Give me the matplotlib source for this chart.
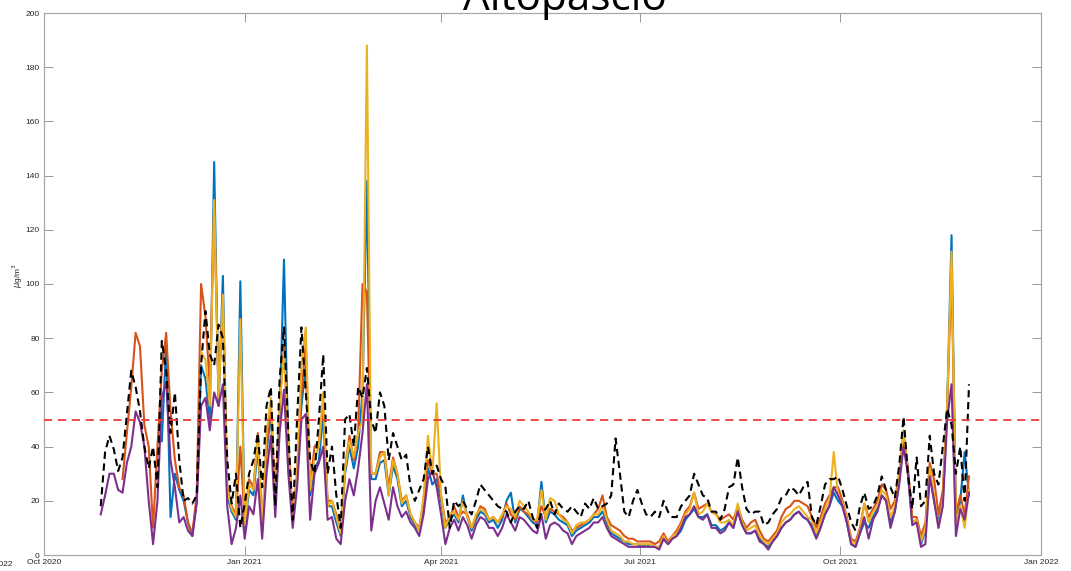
import numpy as np
import matplotlib
matplotlib.use('Agg')
import matplotlib.pyplot as plt

nan = np.nan

# ---- data (every 2 days from 2020-10-27) ----
start_date = '2020-10-27'
n_points = 200
step_days = 2

black_obs = [
    18, 38, 44, 39, 31, 36, 52, 68, 62, 53,
    40, 32, 40, 25, 79, 68, 45, 60, 35, 20,
    21, 19, 22, 70, 90, 74, 70, 85, 80, 35,
    19, 30, 10, 19, 30, 35, 45, 25, 55, 62,
    18, 65, 84, 45, 13, 50, 84, 60, 35, 30,
    50, 74, 30, 40, 22, 10, 50, 52, 40, 62,
    58, 69, 50, 45, 60, 55, 35, 45, 40, 35,
    37, 25, 20, 24, 28, 40, 30, 33, 28, 25,
    10, 20, 18, 20, 17, 15, 20, 26, 24, 22,
    20, 18, 17, 16, 12, 16, 18, 17, 20, 14,
    10, 16, 17, 20, 15, 19, 17, 16, 18, 16,
    14, 19, 17, 21, 17, 18, 19, 22, 43, 30,
    16, 14, 20, 24, 19, 15, 14, 16, 14, 20,
    16, 14, 14, 18, 20, 22, 30, 26, 22, 21,
    16, 16, 13, 17, 25, 26, 36, 25, 17, 15,
    16, 16, 11, 12, 15, 17, 21, 22, 25, 24,
    22, 25, 27, 14, 11, 18, 26, 28, 28, 29,
    24, 18, 12, 9, 18, 23, 17, 18, 22, 29,
    24, 25, 21, 33, 51, 30, 17, 36, 18, 20,
    44, 30, 26, 40, 54, 48, 30, 40, 20, 63,
]

orange = [
    nan, nan, nan, nan, nan, 28, 45, 62, 82, 77,
    48, 40, 10, 40, 68, 82, 53, 35, 25, 22,
    12, 8, 22, 100, 88, 62, 128, 60, 92, 25,
    18, 15, 40, 12, 28, 25, 45, 10, 40, 55,
    20, 55, 77, 42, 14, 30, 60, 78, 25, 40,
    42, 55, 20, 20, 15, 8, 32, 44, 35, 45,
    100, 97, 30, 30, 38, 38, 25, 36, 30, 20,
    22, 15, 12, 10, 20, 35, 30, 30, 22, 12,
    14, 18, 14, 16, 15, 10, 14, 18, 17, 13,
    14, 12, 14, 19, 15, 13, 18, 16, 15, 13,
    12, 18, 14, 17, 16, 15, 14, 12, 9, 10,
    11, 12, 13, 15, 17, 22, 14, 11, 10, 9,
    7, 6, 6, 5, 5, 5, 5, 4, 5, 8,
    5, 7, 9, 12, 16, 18, 23, 17, 18, 19,
    16, 15, 13, 14, 15, 13, 18, 13, 10, 12,
    13, 9, 6, 5, 7, 9, 14, 17, 18, 20,
    20, 19, 18, 14, 10, 14, 19, 22, 25, 25,
    20, 14, 6, 5, 10, 19, 14, 17, 20, 26,
    24, 17, 20, 30, 45, 32, 14, 14, 7, 12,
    34, 28, 15, 24, 55, 105, 15, 22, 15, 29,
]

blue = [
    nan, nan, nan, nan, nan, nan, nan, nan, nan, nan,
    nan, nan, nan, nan, 42, 78, 14, 30, 24, 20,
    12, 7, 20, 70, 65, 50, 145, 55, 103, 22,
    16, 13, 101, 10, 24, 22, 40, 9, 38, 52,
    18, 50, 109, 38, 12, 28, 55, 70, 22, 32,
    35, 52, 18, 18, 12, 7, 30, 40, 32, 40,
    60, 138, 28, 28, 34, 35, 22, 33, 28, 18,
    20, 14, 11, 9, 18, 32, 26, 28, 20, 10,
    13, 15, 12, 22, 14, 9, 13, 16, 15, 12,
    13, 10, 13, 20, 23, 12, 17, 16, 14, 12,
    11, 27, 12, 16, 15, 13, 12, 11, 7, 9,
    10, 11, 12, 14, 14, 16, 12, 8, 7, 6,
    5, 4, 4, 4, 3, 4, 3, 3, 3, 6,
    4, 6, 7, 9, 13, 15, 17, 14, 14, 15,
    11, 11, 9, 10, 12, 10, 17, 11, 8, 8,
    9, 6, 4, 3, 5, 7, 10, 12, 13, 15,
    16, 14, 13, 11, 7, 11, 15, 18, 23, 20,
    18, 12, 4, 3, 8, 12, 10, 14, 17, 22,
    20, 12, 16, 27, 44, 30, 12, 13, 4, 9,
    30, 20, 12, 20, 55, 118, 12, 20, 38, 22,
]

yellow = [
    nan, nan, nan, nan, nan, nan, nan, nan, nan, nan,
    nan, nan, nan, nan, nan, nan, nan, nan, nan, nan,
    nan, nan, nan, 75, 72, 55, 131, 58, 96, 24,
    17, 14, 87, 11, 26, 24, 44, 10, 45, 58,
    18, 55, 75, 40, 12, 30, 70, 84, 24, 36,
    40, 60, 18, 20, 14, 8, 32, 42, 36, 45,
    50, 188, 30, 30, 36, 38, 22, 35, 30, 19,
    22, 15, 12, 9, 22, 44, 30, 56, 22, 10,
    15, 16, 13, 20, 14, 10, 15, 17, 16, 13,
    14, 12, 15, 18, 17, 14, 20, 18, 16, 13,
    13, 24, 13, 21, 20, 15, 13, 12, 8, 11,
    12, 12, 13, 15, 15, 18, 13, 9, 8, 7,
    5, 5, 4, 4, 4, 4, 4, 3, 3, 7,
    4, 7, 8, 11, 15, 17, 23, 15, 16, 19,
    16, 15, 12, 12, 13, 11, 19, 12, 9, 10,
    11, 7, 5, 4, 6, 8, 12, 14, 15, 17,
    18, 16, 14, 13, 8, 12, 17, 20, 38, 22,
    19, 13, 5, 4, 9, 19, 12, 16, 18, 24,
    22, 14, 18, 29, 46, 30, 12, 13, 5, 10,
    32, 22, 10, 20, 55, 112, 12, 18, 10, 24,
]

purple = [
    15, 22, 30, 30, 24, 23, 34, 40, 53, 49,
    40, 20, 4, 20, 58, 64, 35, 25, 12, 14,
    9, 7, 19, 55, 58, 46, 60, 55, 63, 18,
    4, 10, 22, 6, 18, 15, 28, 6, 30, 44,
    14, 45, 61, 30, 10, 25, 50, 52, 13, 30,
    34, 40, 13, 14, 6, 4, 20, 28, 22, 32,
    45, 63, 9, 20, 25, 19, 13, 25, 18, 14,
    16, 12, 10, 7, 15, 28, 31, 25, 15, 4,
    10, 13, 9, 14, 11, 6, 11, 14, 13, 10,
    10, 7, 10, 15, 12, 9, 14, 13, 11, 9,
    8, 15, 6, 11, 12, 11, 9, 8, 4, 7,
    8, 9, 10, 12, 12, 14, 10, 7, 6, 5,
    4, 3, 3, 3, 3, 3, 3, 3, 2, 6,
    4, 6, 7, 10, 14, 15, 18, 14, 13, 15,
    10, 10, 8, 9, 12, 10, 16, 11, 8, 8,
    9, 5, 4, 2, 5, 7, 10, 12, 13, 15,
    16, 14, 13, 10, 6, 10, 15, 18, 25, 22,
    18, 12, 4, 3, 8, 14, 6, 13, 16, 22,
    20, 10, 16, 26, 40, 30, 11, 12, 3, 4,
    29, 20, 10, 18, 50, 63, 7, 17, 13, 23,
]

limit_value = 50
x_tick_dates = ['2020-10-01', '2021-01-01', '2021-04-01', '2021-07-01', '2021-10-01', '2022-01-01']
x_tick_labels = ['Oct 2020', 'Jan 2021', 'Apr 2021', 'Jul 2021', 'Oct 2021', 'Jan 2022']
y_ticks = list(range(0, 201, 20))
title = 'Altopascio'
ylabel = r'$\mu$g/m$^3$'

# ---- plotting ----
dates = np.datetime64(start_date) + np.arange(n_points) * np.timedelta64(step_days, 'D')
for s in (black_obs, orange, blue, yellow, purple):
    assert len(s) == n_points, len(s)

W, H = 1071, 571
fig = plt.figure(figsize=(W / 100, H / 100), dpi=100)
ax = fig.add_axes([44 / W, 16 / H, (1041 - 44) / W, (555 - 13) / H])

lw = 1.5
ax.plot(dates, blue, color='#0072BD', lw=lw)
ax.plot(dates, orange, color='#D95319', lw=lw)
ax.plot(dates, yellow, color='#EDB120', lw=lw)
ax.plot(dates, purple, color='#7E2F8E', lw=lw)
ax.plot(dates, black_obs, color='black', lw=1.5, linestyle=(0, (3.5, 2.2)))
ax.axhline(limit_value, color='#EE3B3B', lw=1.3, linestyle=(0, (4.5, 3.2)), zorder=5)

ax.set_xlim(np.datetime64(x_tick_dates[0]), np.datetime64(x_tick_dates[-1]))
ax.set_ylim(0, 200)
ax.set_xticks([np.datetime64(d) for d in x_tick_dates])
ax.set_xticklabels(x_tick_labels)
ax.set_yticks(y_ticks)
ax.tick_params(direction='in', length=6.5, width=0.7, color='#999999',
               labelsize=6, labelcolor='#262626', top=True, right=True, pad=3)
for lab in ax.get_xticklabels() + ax.get_yticklabels():
    lab.set_family('Liberation Sans')
for sp in ax.spines.values():
    sp.set_color('#A8A8A8')
    sp.set_linewidth(0.9)

fig.text(18 / W, 1 - 276 / H, ylabel, rotation=90, ha='center', va='center',
         fontsize=6, color='#262626', family='Liberation Sans')

t = fig.text(565 / W, 1 - 10 / H, title, ha='center', va='baseline',
             fontsize=34, family='Open Sans', color='black')
fig.canvas.draw()
r = fig.canvas.get_renderer()
wpx = t.get_window_extent(r).width
t.set_fontsize(34 * 204 / wpx)

fig.text(12 / W, 1 - 565 / H, 'Jan 2022', ha='right', va='center',
         fontsize=6, color='#262626', family='Liberation Sans')

fig.savefig('out.png', dpi=100)
